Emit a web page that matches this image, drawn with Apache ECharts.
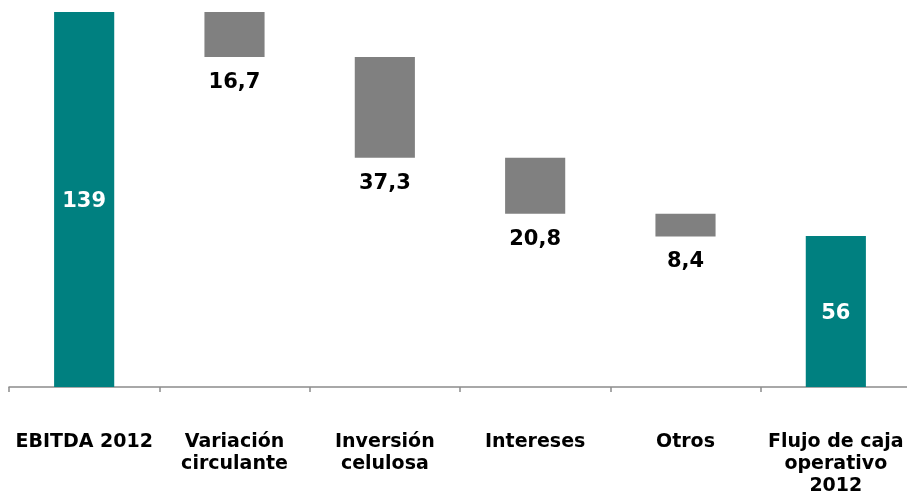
<!DOCTYPE html>
<html>
<head>
<meta charset="utf-8">
<script src="https://cdn.jsdelivr.net/npm/echarts@6/dist/echarts.min.js"></script>
<style>
html,body{margin:0;padding:0;background:#fff;}
#chart{width:907px;height:492px;}
</style>
</head>
<body>
<div id="chart"></div>
<script>
const categories = ['EBITDA 2012', 'Variación\ncirculante', 'Inversión\ncelulosa', 'Intereses', 'Otros', 'Flujo de caja\noperativo\n2012'];
const totalStart = 139;
const deltas = [16.7, 37.3, 20.8, 8.4];
const totalEnd = 56;
const valueLabels = ['139', '16,7', '37,3', '20,8', '8,4', '56'];

// Build waterfall: invisible base + visible bars
const baseData = [0];
const visData = [totalStart];
let running = totalStart;
deltas.forEach(d => {
  running = running - d;
  baseData.push(running);
  visData.push(d);
});
baseData.push(0);
visData.push(totalEnd);

const teal = '#008080';
const gray = '#808080';

const visSeriesData = visData.map((v, i) => {
  const isTotal = (i === 0 || i === visData.length - 1);
  return {
    value: v,
    itemStyle: { color: isTotal ? teal : gray },
    label: isTotal
      ? { show: true, position: 'inside', offset: [0, 2], color: '#ffffff', formatter: valueLabels[i] }
      : { show: true, position: 'bottom', distance: 15, color: '#000000', formatter: valueLabels[i] }
  };
});

const chart = echarts.init(document.getElementById('chart'), null, { renderer: 'canvas' });
chart.setOption({
  animation: false,
  backgroundColor: '#ffffff',
  grid: { left: 9, right: -4, top: 12, bottom: 105, containLabel: false, outerBoundsMode: 'none' },
  xAxis: {
    type: 'category',
    data: categories,
    axisLine: { show: true, lineStyle: { color: '#8c8c8c', width: 1.5 } },
    axisTick: { show: true, length: 5, lineStyle: { color: '#8c8c8c', width: 1.5 } },
    axisLabel: {
      interval: 0,
      margin: 44,
      color: '#000000',
      fontFamily: 'DejaVu Sans',
      fontWeight: 'bold',
      fontSize: 19,
      lineHeight: 22,
      align: 'center'
    }
  },
  yAxis: {
    type: 'value',
    min: 0,
    max: 139,
    show: false,
    splitLine: { show: false }
  },
  series: [
    {
      type: 'bar',
      stack: 'wf',
      data: baseData,
      barWidth: '40%',
      itemStyle: { color: 'transparent' },
      emphasis: { disabled: true },
      silent: true
    },
    {
      type: 'bar',
      stack: 'wf',
      data: visSeriesData,
      barWidth: '40%',
      label: {
        fontFamily: 'DejaVu Sans',
        fontWeight: 'bold',
        fontSize: 21
      }
    }
  ]
});
</script>
</body>
</html>
